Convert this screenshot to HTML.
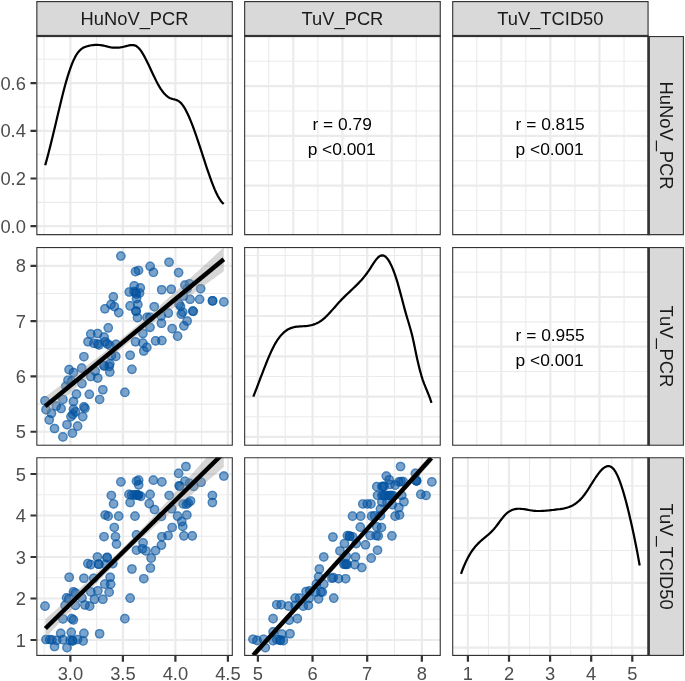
<!DOCTYPE html>
<html lang="en"><head><meta charset="utf-8"><title>Pairs plot</title>
<style>html,body{margin:0;padding:0;background:#fff}svg{display:block}</style></head>
<body>
<svg width="685" height="681" viewBox="0 0 685 681" style="display:block" font-family="'Liberation Sans', sans-serif">
<defs>
<clipPath id="cp00"><rect x="36.3" y="36" width="196.55" height="199.15"/></clipPath>
<clipPath id="cp01"><rect x="244.1" y="36" width="196.7" height="199.15"/></clipPath>
<clipPath id="cp02"><rect x="452.15" y="36" width="196.45" height="199.15"/></clipPath>
<clipPath id="cp10"><rect x="36.3" y="247" width="196.55" height="198.8"/></clipPath>
<clipPath id="cp11"><rect x="244.1" y="247" width="196.7" height="198.8"/></clipPath>
<clipPath id="cp12"><rect x="452.15" y="247" width="196.45" height="198.8"/></clipPath>
<clipPath id="cp20"><rect x="36.3" y="457.15" width="196.55" height="198.8"/></clipPath>
<clipPath id="cp21"><rect x="244.1" y="457.15" width="196.7" height="198.8"/></clipPath>
<clipPath id="cp22"><rect x="452.15" y="457.15" width="196.45" height="198.8"/></clipPath>
<clipPath id="st0"><rect x="36.3" y="1.07" width="196.55" height="34.93"/></clipPath>
<clipPath id="st1"><rect x="244.1" y="1.07" width="196.7" height="34.93"/></clipPath>
<clipPath id="st2"><rect x="452.15" y="1.07" width="196.45" height="34.93"/></clipPath>
<clipPath id="sr0"><rect x="648.6" y="36" width="35.35" height="199.15"/></clipPath>
<clipPath id="sr1"><rect x="648.6" y="247" width="35.35" height="198.8"/></clipPath>
<clipPath id="sr2"><rect x="648.6" y="457.15" width="35.35" height="198.8"/></clipPath>
</defs>
<rect width="685" height="681" fill="#fff"/>
<rect x="36.3" y="1.07" width="196.55" height="34.93" fill="#D9D9D9" stroke="#333333" stroke-width="2.22" clip-path="url(#st0)"/>
<text x="134.57" y="24.8" font-size="18.33" fill="#1A1A1A" text-anchor="middle" letter-spacing="0" dx="0.0">HuNoV_PCR</text>
<rect x="244.1" y="1.07" width="196.7" height="34.93" fill="#D9D9D9" stroke="#333333" stroke-width="2.22" clip-path="url(#st1)"/>
<text x="342.45" y="24.8" font-size="18.33" fill="#1A1A1A" text-anchor="middle" letter-spacing="0" dx="0.0">TuV_PCR</text>
<rect x="452.15" y="1.07" width="196.45" height="34.93" fill="#D9D9D9" stroke="#333333" stroke-width="2.22" clip-path="url(#st2)"/>
<text x="550.38" y="24.8" font-size="18.33" fill="#1A1A1A" text-anchor="middle" letter-spacing="0" dx="0.0">TuV_TCID50</text>
<rect x="648.6" y="36" width="35.35" height="199.15" fill="#D9D9D9" stroke="#333333" stroke-width="2.22" clip-path="url(#sr0)"/>
<text transform="translate(660 135.57) rotate(90)" font-size="18.33" fill="#1A1A1A" text-anchor="middle" letter-spacing="0" dx="0.0">HuNoV_PCR</text>
<rect x="648.6" y="247" width="35.35" height="198.8" fill="#D9D9D9" stroke="#333333" stroke-width="2.22" clip-path="url(#sr1)"/>
<text transform="translate(660 346.4) rotate(90)" font-size="18.33" fill="#1A1A1A" text-anchor="middle" letter-spacing="0" dx="0.0">TuV_PCR</text>
<rect x="648.6" y="457.15" width="35.35" height="198.8" fill="#D9D9D9" stroke="#333333" stroke-width="2.22" clip-path="url(#sr2)"/>
<text transform="translate(660 556.55) rotate(90)" font-size="18.33" fill="#1A1A1A" text-anchor="middle" letter-spacing="0" dx="0.0">TuV_TCID50</text>
<g clip-path="url(#cp00)">
<rect x="36.3" y="36" width="196.55" height="199.15" fill="#fff"/>
<path d="M36.3 202.35H232.85M36.3 154.65H232.85M36.3 106.95H232.85M36.3 59.25H232.85M44.15 36V235.15M96.65 36V235.15M149.15 36V235.15M201.65 36V235.15" stroke="#EBEBEB" stroke-width="1.110" fill="none"/>
<path d="M36.3 226.2H232.85M36.3 178.5H232.85M36.3 130.8H232.85M36.3 83.1H232.85M70.4 36V235.15M122.9 36V235.15M175.4 36V235.15M227.9 36V235.15" stroke="#EBEBEB" stroke-width="2.220" fill="none"/>
<path d="M45.2 165.31L46.7 159.86L48.2 154.2L49.7 148.36L51.2 142.36L52.7 136.24L54.2 130.01L55.7 123.71L57.2 117.36L58.7 111.02L60.2 104.73L61.7 98.56L63.2 92.58L64.7 86.84L66.2 81.41L67.7 76.33L69.2 71.63L70.7 67.31L72.2 63.4L73.7 59.92L75.2 56.88L76.7 54.3L78.2 52.18L79.7 50.48L81.2 49.14L82.7 48.1L84.2 47.3L85.7 46.7L87.2 46.23L88.7 45.84L90.2 45.52L91.7 45.27L93.2 45.08L94.7 44.95L96.2 44.9L97.7 44.92L99.2 45.01L100.7 45.17L102.2 45.41L103.7 45.7L105.2 46.03L106.7 46.38L108.2 46.72L109.7 47.05L111.2 47.33L112.7 47.54L114.2 47.68L115.7 47.72L117.2 47.68L118.7 47.55L120.2 47.36L121.7 47.11L123.2 46.82L124.7 46.49L126.2 46.14L127.7 45.77L129.2 45.42L130.7 45.15L132.2 45.03L133.7 45.14L135.2 45.56L136.7 46.34L138.2 47.56L139.7 49.2L141.2 51.2L142.7 53.53L144.2 56.12L145.7 58.94L147.2 61.93L148.7 65.05L150.2 68.25L151.7 71.48L153.2 74.69L154.7 77.84L156.2 80.87L157.7 83.74L159.2 86.4L160.7 88.82L162.2 90.99L163.7 92.9L165.2 94.56L166.7 95.96L168.2 97.1L169.7 97.97L171.2 98.59L172.7 99.03L174.2 99.39L175.7 99.79L177.2 100.34L178.7 101.13L180.2 102.29L181.7 103.87L183.2 105.85L184.7 108.21L186.2 110.91L187.7 113.93L189.2 117.24L190.7 120.81L192.2 124.61L193.7 128.62L195.2 132.8L196.7 137.12L198.2 141.57L199.7 146.1L201.2 150.7L202.7 155.33L204.2 159.95L205.7 164.54L207.2 169.05L208.7 173.46L210.2 177.73L211.7 181.82L213.2 185.7L214.7 189.33L216.2 192.69L217.7 195.72L219.2 198.41L220.7 200.71L222.2 202.59L223.7 204.01" fill="none" stroke="#000" stroke-width="2.22" stroke-linejoin="round"/>
<rect x="36.3" y="36" width="196.55" height="199.15" fill="none" stroke="#333333" stroke-width="2.22"/>
</g>
<g clip-path="url(#cp01)">
<rect x="244.1" y="36" width="196.7" height="199.15" fill="#fff"/>
<path d="M244.1 61.19H440.8M244.1 110.98H440.8M244.1 160.77H440.8M244.1 210.56H440.8M268.69 36V235.15M317.86 36V235.15M367.04 36V235.15M416.21 36V235.15" stroke="#EBEBEB" stroke-width="1.110" fill="none"/>
<path d="M244.1 86.09H440.8M244.1 135.88H440.8M244.1 185.66H440.8M293.27 36V235.15M342.45 36V235.15M391.62 36V235.15" stroke="#EBEBEB" stroke-width="2.220" fill="none"/>
<text x="342.15" y="130.17" font-size="17.35" fill="#000" text-anchor="middle" letter-spacing="0">r = 0.79</text>
<text x="341.65" y="155.07" font-size="17.35" fill="#000" text-anchor="middle" letter-spacing="0">p &lt;0.001</text>
<rect x="244.1" y="36" width="196.7" height="199.15" fill="none" stroke="#333333" stroke-width="2.22"/>
</g>
<g clip-path="url(#cp02)">
<rect x="452.15" y="36" width="196.45" height="199.15" fill="#fff"/>
<path d="M452.15 61.19H648.6M452.15 110.98H648.6M452.15 160.77H648.6M452.15 210.56H648.6M476.71 36V235.15M525.82 36V235.15M574.93 36V235.15M624.04 36V235.15" stroke="#EBEBEB" stroke-width="1.110" fill="none"/>
<path d="M452.15 86.09H648.6M452.15 135.88H648.6M452.15 185.66H648.6M501.26 36V235.15M550.38 36V235.15M599.49 36V235.15" stroke="#EBEBEB" stroke-width="2.220" fill="none"/>
<text x="550.08" y="130.17" font-size="17.35" fill="#000" text-anchor="middle" letter-spacing="0">r = 0.815</text>
<text x="549.58" y="155.07" font-size="17.35" fill="#000" text-anchor="middle" letter-spacing="0">p &lt;0.001</text>
<rect x="452.15" y="36" width="196.45" height="199.15" fill="none" stroke="#333333" stroke-width="2.22"/>
</g>
<g clip-path="url(#cp10)">
<rect x="36.3" y="247" width="196.55" height="198.8" fill="#fff"/>
<path d="M36.3 404.1H232.85M36.3 348.8H232.85M36.3 293.5H232.85M44.15 247V445.8M96.65 247V445.8M149.15 247V445.8M201.65 247V445.8" stroke="#EBEBEB" stroke-width="1.110" fill="none"/>
<path d="M36.3 431.75H232.85M36.3 376.45H232.85M36.3 321.15H232.85M36.3 265.85H232.85M70.4 247V445.8M122.9 247V445.8M175.4 247V445.8M227.9 247V445.8" stroke="#EBEBEB" stroke-width="2.220" fill="none"/>
<g fill="#0554A0" fill-opacity="0.53">
<circle cx="44.99" cy="400.91" r="4.81"/>
<circle cx="46.01" cy="409.72" r="4.81"/>
<circle cx="51.45" cy="413.24" r="4.81"/>
<circle cx="49.24" cy="419.85" r="4.81"/>
<circle cx="54.53" cy="428.51" r="4.81"/>
<circle cx="62.9" cy="436.88" r="4.81"/>
<circle cx="56.29" cy="406.05" r="4.81"/>
<circle cx="61.14" cy="408.54" r="4.81"/>
<circle cx="62.9" cy="399.44" r="4.81"/>
<circle cx="67.01" cy="424.7" r="4.81"/>
<circle cx="72.44" cy="433.21" r="4.81"/>
<circle cx="77.58" cy="426.16" r="4.81"/>
<circle cx="82.72" cy="416.62" r="4.81"/>
<circle cx="70.98" cy="416.62" r="4.81"/>
<circle cx="72.89" cy="414.42" r="4.81"/>
<circle cx="73.47" cy="409.28" r="4.81"/>
<circle cx="75.38" cy="411.77" r="4.81"/>
<circle cx="73.47" cy="401.49" r="4.81"/>
<circle cx="76.41" cy="394.15" r="4.81"/>
<circle cx="83.9" cy="406.78" r="4.81"/>
<circle cx="84.93" cy="408.25" r="4.81"/>
<circle cx="89.33" cy="394.3" r="4.81"/>
<circle cx="99.61" cy="399.44" r="4.81"/>
<circle cx="102.84" cy="389.75" r="4.81"/>
<circle cx="124.87" cy="392.39" r="4.81"/>
<circle cx="65.84" cy="386.22" r="4.81"/>
<circle cx="68.04" cy="380.2" r="4.81"/>
<circle cx="71.71" cy="381.38" r="4.81"/>
<circle cx="69.07" cy="369.63" r="4.81"/>
<circle cx="73.47" cy="372.57" r="4.81"/>
<circle cx="81.7" cy="368.16" r="4.81"/>
<circle cx="83.9" cy="356.71" r="4.81"/>
<circle cx="81.99" cy="383.58" r="4.81"/>
<circle cx="90.8" cy="376.53" r="4.81"/>
<circle cx="97.7" cy="378" r="4.81"/>
<circle cx="95.21" cy="371.1" r="4.81"/>
<circle cx="104.02" cy="365.66" r="4.81"/>
<circle cx="115.76" cy="356.41" r="4.81"/>
<circle cx="111.36" cy="355.68" r="4.81"/>
<circle cx="130.15" cy="355.24" r="4.81"/>
<circle cx="131.92" cy="369.34" r="4.81"/>
<circle cx="108.26" cy="327.87" r="4.81"/>
<circle cx="90.79" cy="334.04" r="4.81"/>
<circle cx="97.68" cy="333.52" r="4.81"/>
<circle cx="104.15" cy="337.12" r="4.81"/>
<circle cx="88.02" cy="341.75" r="4.81"/>
<circle cx="93.87" cy="343.29" r="4.81"/>
<circle cx="97.47" cy="343.8" r="4.81"/>
<circle cx="99.01" cy="344.83" r="4.81"/>
<circle cx="105.18" cy="341.75" r="4.81"/>
<circle cx="107.24" cy="343.8" r="4.81"/>
<circle cx="109.8" cy="345.34" r="4.81"/>
<circle cx="115.97" cy="344.32" r="4.81"/>
<circle cx="135.5" cy="341.75" r="4.81"/>
<circle cx="142.9" cy="343.08" r="4.81"/>
<circle cx="142.9" cy="333.52" r="4.81"/>
<circle cx="149.99" cy="327.36" r="4.81"/>
<circle cx="143.72" cy="351" r="4.81"/>
<circle cx="146.8" cy="347.4" r="4.81"/>
<circle cx="109.29" cy="366.41" r="4.81"/>
<circle cx="109.8" cy="372.06" r="4.81"/>
<circle cx="104.15" cy="365.9" r="4.81"/>
<circle cx="109.8" cy="363.84" r="4.81"/>
<circle cx="120.86" cy="256.05" r="4.81"/>
<circle cx="135.46" cy="271.67" r="4.81"/>
<circle cx="138.54" cy="270.44" r="4.81"/>
<circle cx="150.15" cy="266.33" r="4.81"/>
<circle cx="153.44" cy="272.29" r="4.81"/>
<circle cx="169.06" cy="262.22" r="4.81"/>
<circle cx="134.22" cy="285.86" r="4.81"/>
<circle cx="140.29" cy="287.91" r="4.81"/>
<circle cx="129.29" cy="292.02" r="4.81"/>
<circle cx="133.92" cy="291.51" r="4.81"/>
<circle cx="135.46" cy="292.54" r="4.81"/>
<circle cx="136.49" cy="294.08" r="4.81"/>
<circle cx="139.57" cy="293.05" r="4.81"/>
<circle cx="136.49" cy="298.7" r="4.81"/>
<circle cx="161.66" cy="289.76" r="4.81"/>
<circle cx="171.22" cy="289.25" r="4.81"/>
<circle cx="113.36" cy="296.85" r="4.81"/>
<circle cx="111" cy="304.56" r="4.81"/>
<circle cx="114.39" cy="306.62" r="4.81"/>
<circle cx="104.93" cy="308.78" r="4.81"/>
<circle cx="118.71" cy="312.58" r="4.81"/>
<circle cx="130.11" cy="305.9" r="4.81"/>
<circle cx="137.82" cy="304.56" r="4.81"/>
<circle cx="135.97" cy="311.04" r="4.81"/>
<circle cx="136.18" cy="311.35" r="4.81"/>
<circle cx="137.51" cy="317.72" r="4.81"/>
<circle cx="154.27" cy="306.72" r="4.81"/>
<circle cx="146.97" cy="317.41" r="4.81"/>
<circle cx="150.05" cy="317.41" r="4.81"/>
<circle cx="161.25" cy="315.97" r="4.81"/>
<circle cx="168.35" cy="313.09" r="4.81"/>
<circle cx="178.61" cy="272.57" r="4.81"/>
<circle cx="184.93" cy="285.05" r="4.81"/>
<circle cx="189.63" cy="283.87" r="4.81"/>
<circle cx="187.13" cy="288.72" r="4.81"/>
<circle cx="200.64" cy="288.72" r="4.81"/>
<circle cx="190.07" cy="299.29" r="4.81"/>
<circle cx="199.61" cy="299.29" r="4.81"/>
<circle cx="212.39" cy="300.76" r="4.81"/>
<circle cx="212.68" cy="300.91" r="4.81"/>
<circle cx="223.84" cy="301.93" r="4.81"/>
<circle cx="183.46" cy="296.06" r="4.81"/>
<circle cx="179.05" cy="304.14" r="4.81"/>
<circle cx="180.52" cy="306.34" r="4.81"/>
<circle cx="182.72" cy="312.21" r="4.81"/>
<circle cx="181.26" cy="314.12" r="4.81"/>
<circle cx="192.71" cy="311.04" r="4.81"/>
<circle cx="193.3" cy="311.33" r="4.81"/>
<circle cx="161.43" cy="323.23" r="4.81"/>
<circle cx="187.13" cy="321.02" r="4.81"/>
<circle cx="183.9" cy="325.87" r="4.81"/>
<circle cx="172.15" cy="328.66" r="4.81"/>
<circle cx="177.58" cy="336.15" r="4.81"/>
<circle cx="155.56" cy="340.85" r="4.81"/>
<circle cx="161.87" cy="340.55" r="4.81"/>
</g>
<g fill="none" stroke="#0554A0" stroke-opacity="0.45" stroke-width="1.47">
<circle cx="44.99" cy="400.91" r="4.07"/>
<circle cx="46.01" cy="409.72" r="4.07"/>
<circle cx="51.45" cy="413.24" r="4.07"/>
<circle cx="49.24" cy="419.85" r="4.07"/>
<circle cx="54.53" cy="428.51" r="4.07"/>
<circle cx="62.9" cy="436.88" r="4.07"/>
<circle cx="56.29" cy="406.05" r="4.07"/>
<circle cx="61.14" cy="408.54" r="4.07"/>
<circle cx="62.9" cy="399.44" r="4.07"/>
<circle cx="67.01" cy="424.7" r="4.07"/>
<circle cx="72.44" cy="433.21" r="4.07"/>
<circle cx="77.58" cy="426.16" r="4.07"/>
<circle cx="82.72" cy="416.62" r="4.07"/>
<circle cx="70.98" cy="416.62" r="4.07"/>
<circle cx="72.89" cy="414.42" r="4.07"/>
<circle cx="73.47" cy="409.28" r="4.07"/>
<circle cx="75.38" cy="411.77" r="4.07"/>
<circle cx="73.47" cy="401.49" r="4.07"/>
<circle cx="76.41" cy="394.15" r="4.07"/>
<circle cx="83.9" cy="406.78" r="4.07"/>
<circle cx="84.93" cy="408.25" r="4.07"/>
<circle cx="89.33" cy="394.3" r="4.07"/>
<circle cx="99.61" cy="399.44" r="4.07"/>
<circle cx="102.84" cy="389.75" r="4.07"/>
<circle cx="124.87" cy="392.39" r="4.07"/>
<circle cx="65.84" cy="386.22" r="4.07"/>
<circle cx="68.04" cy="380.2" r="4.07"/>
<circle cx="71.71" cy="381.38" r="4.07"/>
<circle cx="69.07" cy="369.63" r="4.07"/>
<circle cx="73.47" cy="372.57" r="4.07"/>
<circle cx="81.7" cy="368.16" r="4.07"/>
<circle cx="83.9" cy="356.71" r="4.07"/>
<circle cx="81.99" cy="383.58" r="4.07"/>
<circle cx="90.8" cy="376.53" r="4.07"/>
<circle cx="97.7" cy="378" r="4.07"/>
<circle cx="95.21" cy="371.1" r="4.07"/>
<circle cx="104.02" cy="365.66" r="4.07"/>
<circle cx="115.76" cy="356.41" r="4.07"/>
<circle cx="111.36" cy="355.68" r="4.07"/>
<circle cx="130.15" cy="355.24" r="4.07"/>
<circle cx="131.92" cy="369.34" r="4.07"/>
<circle cx="108.26" cy="327.87" r="4.07"/>
<circle cx="90.79" cy="334.04" r="4.07"/>
<circle cx="97.68" cy="333.52" r="4.07"/>
<circle cx="104.15" cy="337.12" r="4.07"/>
<circle cx="88.02" cy="341.75" r="4.07"/>
<circle cx="93.87" cy="343.29" r="4.07"/>
<circle cx="97.47" cy="343.8" r="4.07"/>
<circle cx="99.01" cy="344.83" r="4.07"/>
<circle cx="105.18" cy="341.75" r="4.07"/>
<circle cx="107.24" cy="343.8" r="4.07"/>
<circle cx="109.8" cy="345.34" r="4.07"/>
<circle cx="115.97" cy="344.32" r="4.07"/>
<circle cx="135.5" cy="341.75" r="4.07"/>
<circle cx="142.9" cy="343.08" r="4.07"/>
<circle cx="142.9" cy="333.52" r="4.07"/>
<circle cx="149.99" cy="327.36" r="4.07"/>
<circle cx="143.72" cy="351" r="4.07"/>
<circle cx="146.8" cy="347.4" r="4.07"/>
<circle cx="109.29" cy="366.41" r="4.07"/>
<circle cx="109.8" cy="372.06" r="4.07"/>
<circle cx="104.15" cy="365.9" r="4.07"/>
<circle cx="109.8" cy="363.84" r="4.07"/>
<circle cx="120.86" cy="256.05" r="4.07"/>
<circle cx="135.46" cy="271.67" r="4.07"/>
<circle cx="138.54" cy="270.44" r="4.07"/>
<circle cx="150.15" cy="266.33" r="4.07"/>
<circle cx="153.44" cy="272.29" r="4.07"/>
<circle cx="169.06" cy="262.22" r="4.07"/>
<circle cx="134.22" cy="285.86" r="4.07"/>
<circle cx="140.29" cy="287.91" r="4.07"/>
<circle cx="129.29" cy="292.02" r="4.07"/>
<circle cx="133.92" cy="291.51" r="4.07"/>
<circle cx="135.46" cy="292.54" r="4.07"/>
<circle cx="136.49" cy="294.08" r="4.07"/>
<circle cx="139.57" cy="293.05" r="4.07"/>
<circle cx="136.49" cy="298.7" r="4.07"/>
<circle cx="161.66" cy="289.76" r="4.07"/>
<circle cx="171.22" cy="289.25" r="4.07"/>
<circle cx="113.36" cy="296.85" r="4.07"/>
<circle cx="111" cy="304.56" r="4.07"/>
<circle cx="114.39" cy="306.62" r="4.07"/>
<circle cx="104.93" cy="308.78" r="4.07"/>
<circle cx="118.71" cy="312.58" r="4.07"/>
<circle cx="130.11" cy="305.9" r="4.07"/>
<circle cx="137.82" cy="304.56" r="4.07"/>
<circle cx="135.97" cy="311.04" r="4.07"/>
<circle cx="136.18" cy="311.35" r="4.07"/>
<circle cx="137.51" cy="317.72" r="4.07"/>
<circle cx="154.27" cy="306.72" r="4.07"/>
<circle cx="146.97" cy="317.41" r="4.07"/>
<circle cx="150.05" cy="317.41" r="4.07"/>
<circle cx="161.25" cy="315.97" r="4.07"/>
<circle cx="168.35" cy="313.09" r="4.07"/>
<circle cx="178.61" cy="272.57" r="4.07"/>
<circle cx="184.93" cy="285.05" r="4.07"/>
<circle cx="189.63" cy="283.87" r="4.07"/>
<circle cx="187.13" cy="288.72" r="4.07"/>
<circle cx="200.64" cy="288.72" r="4.07"/>
<circle cx="190.07" cy="299.29" r="4.07"/>
<circle cx="199.61" cy="299.29" r="4.07"/>
<circle cx="212.39" cy="300.76" r="4.07"/>
<circle cx="212.68" cy="300.91" r="4.07"/>
<circle cx="223.84" cy="301.93" r="4.07"/>
<circle cx="183.46" cy="296.06" r="4.07"/>
<circle cx="179.05" cy="304.14" r="4.07"/>
<circle cx="180.52" cy="306.34" r="4.07"/>
<circle cx="182.72" cy="312.21" r="4.07"/>
<circle cx="181.26" cy="314.12" r="4.07"/>
<circle cx="192.71" cy="311.04" r="4.07"/>
<circle cx="193.3" cy="311.33" r="4.07"/>
<circle cx="161.43" cy="323.23" r="4.07"/>
<circle cx="187.13" cy="321.02" r="4.07"/>
<circle cx="183.9" cy="325.87" r="4.07"/>
<circle cx="172.15" cy="328.66" r="4.07"/>
<circle cx="177.58" cy="336.15" r="4.07"/>
<circle cx="155.56" cy="340.85" r="4.07"/>
<circle cx="161.87" cy="340.55" r="4.07"/>
</g>
<path d="M45.2 396.8L54.13 390.2L63.06 383.56L71.99 376.89L80.92 370.16L89.85 363.37L98.78 356.49L107.71 349.5L116.64 342.38L125.57 335.11L134.5 327.65L143.43 320.02L152.36 312.22L161.29 304.3L170.22 296.29L179.15 288.2L188.08 280.06L197.01 271.89L205.94 263.68L214.87 255.45L223.8 247.2L223.8 271.2L214.87 277.66L205.94 284.14L197.01 290.64L188.08 297.18L179.15 303.75L170.22 310.37L161.29 317.07L152.36 323.86L143.43 330.77L134.5 337.85L125.57 345.11L116.64 352.54L107.71 360.13L98.78 367.85L89.85 375.68L80.92 383.6L71.99 391.58L63.06 399.62L54.13 407.69L45.2 415.8Z" fill="#999999" fill-opacity="0.4"/>
<path d="M45.2 406.3L223.8 259.2" stroke="#000" stroke-width="4.45" fill="none"/>
<rect x="36.3" y="247" width="196.55" height="198.8" fill="none" stroke="#333333" stroke-width="2.22"/>
</g>
<g clip-path="url(#cp11)">
<rect x="244.1" y="247" width="196.7" height="198.8" fill="#fff"/>
<path d="M244.1 416.8H440.8M244.1 376.5H440.8M244.1 336.2H440.8M244.1 295.9H440.8M244.1 255.5H440.8M285.22 247V445.8M339.88 247V445.8M394.52 247V445.8" stroke="#EBEBEB" stroke-width="1.110" fill="none"/>
<path d="M244.1 436.9H440.8M244.1 396.6H440.8M244.1 356.3H440.8M244.1 316H440.8M244.1 275.7H440.8M257.9 247V445.8M312.55 247V445.8M367.2 247V445.8M421.85 247V445.8" stroke="#EBEBEB" stroke-width="2.220" fill="none"/>
<path d="M253.3 396.71L254.8 392.93L256.3 389.06L257.8 385.14L259.3 381.19L260.8 377.22L262.3 373.27L263.8 369.37L265.3 365.53L266.8 361.78L268.3 358.15L269.8 354.66L271.3 351.34L272.8 348.21L274.3 345.3L275.8 342.64L277.3 340.22L278.8 338.06L280.3 336.13L281.8 334.42L283.3 332.93L284.8 331.62L286.3 330.5L287.8 329.55L289.3 328.76L290.8 328.12L292.3 327.6L293.8 327.2L295.3 326.9L296.8 326.68L298.3 326.53L299.8 326.42L301.3 326.33L302.8 326.25L304.3 326.15L305.8 326.03L307.3 325.86L308.8 325.64L310.3 325.37L311.8 325.02L313.3 324.6L314.8 324.08L316.3 323.48L317.8 322.76L319.3 321.93L320.8 320.98L322.3 319.89L323.8 318.66L325.3 317.32L326.8 315.87L328.3 314.33L329.8 312.72L331.3 311.06L332.8 309.37L334.3 307.65L335.8 305.94L337.3 304.24L338.8 302.57L340.3 300.95L341.8 299.38L343.3 297.86L344.8 296.38L346.3 294.92L347.8 293.49L349.3 292.07L350.8 290.65L352.3 289.24L353.8 287.8L355.3 286.35L356.8 284.88L358.3 283.36L359.8 281.79L361.3 280.16L362.8 278.45L364.3 276.65L365.8 274.75L367.3 272.73L368.8 270.58L370.3 268.29L371.8 265.94L373.3 263.61L374.8 261.39L376.3 259.38L377.8 257.68L379.3 256.37L380.8 255.55L382.3 255.3L383.8 255.63L385.3 256.52L386.8 257.96L388.3 259.93L389.8 262.41L391.3 265.39L392.8 268.85L394.3 272.76L395.8 277.12L397.3 281.91L398.8 287.1L400.3 292.59L401.8 298.27L403.3 303.98L404.8 309.6L406.3 314.99L407.8 320.05L409.3 325.01L410.8 330.22L412.3 336.09L413.8 342.84L415.3 350.07L416.8 357.16L418.3 363.79L419.8 369.88L421.3 375.32L422.8 380.04L424.3 384.14L425.8 387.87L427.3 391.46L428.8 395.17L430.3 399.24L431.5 402.92" fill="none" stroke="#000" stroke-width="2.22" stroke-linejoin="round"/>
<rect x="244.1" y="247" width="196.7" height="198.8" fill="none" stroke="#333333" stroke-width="2.22"/>
</g>
<g clip-path="url(#cp12)">
<rect x="452.15" y="247" width="196.45" height="198.8" fill="#fff"/>
<path d="M452.15 272.15H648.6M452.15 321.85H648.6M452.15 371.55H648.6M452.15 421.25H648.6M476.71 247V445.8M525.82 247V445.8M574.93 247V445.8M624.04 247V445.8" stroke="#EBEBEB" stroke-width="1.110" fill="none"/>
<path d="M452.15 297H648.6M452.15 346.7H648.6M452.15 396.4H648.6M501.26 247V445.8M550.38 247V445.8M599.49 247V445.8" stroke="#EBEBEB" stroke-width="2.220" fill="none"/>
<text x="550.08" y="341" font-size="17.35" fill="#000" text-anchor="middle" letter-spacing="0">r = 0.955</text>
<text x="549.58" y="365.9" font-size="17.35" fill="#000" text-anchor="middle" letter-spacing="0">p &lt;0.001</text>
<rect x="452.15" y="247" width="196.45" height="198.8" fill="none" stroke="#333333" stroke-width="2.22"/>
</g>
<g clip-path="url(#cp20)">
<rect x="36.3" y="457.15" width="196.55" height="198.8" fill="#fff"/>
<path d="M36.3 619.25H232.85M36.3 577.75H232.85M36.3 536.25H232.85M36.3 494.75H232.85M44.15 457.15V655.95M96.65 457.15V655.95M149.15 457.15V655.95M201.65 457.15V655.95" stroke="#EBEBEB" stroke-width="1.110" fill="none"/>
<path d="M36.3 640H232.85M36.3 598.5H232.85M36.3 557H232.85M36.3 515.5H232.85M36.3 474H232.85M70.4 457.15V655.95M122.9 457.15V655.95M175.4 457.15V655.95M227.9 457.15V655.95" stroke="#EBEBEB" stroke-width="2.220" fill="none"/>
<g fill="#0554A0" fill-opacity="0.53">
<circle cx="44.99" cy="606.16" r="4.81"/>
<circle cx="46.01" cy="639.49" r="4.81"/>
<circle cx="49.68" cy="639.49" r="4.81"/>
<circle cx="51.89" cy="639.93" r="4.81"/>
<circle cx="56.73" cy="640.38" r="4.81"/>
<circle cx="54.53" cy="646.54" r="4.81"/>
<circle cx="60.7" cy="633.33" r="4.81"/>
<circle cx="62.9" cy="639.64" r="4.81"/>
<circle cx="67.01" cy="647.72" r="4.81"/>
<circle cx="71.27" cy="632.3" r="4.81"/>
<circle cx="72.44" cy="640.67" r="4.81"/>
<circle cx="72.74" cy="640.96" r="4.81"/>
<circle cx="70.24" cy="640.38" r="4.81"/>
<circle cx="77.58" cy="639.49" r="4.81"/>
<circle cx="83.16" cy="640.96" r="4.81"/>
<circle cx="83.9" cy="633.33" r="4.81"/>
<circle cx="99.61" cy="633.77" r="4.81"/>
<circle cx="62.9" cy="618.94" r="4.81"/>
<circle cx="71.71" cy="618.64" r="4.81"/>
<circle cx="73.47" cy="619.82" r="4.81"/>
<circle cx="124.87" cy="618.64" r="4.81"/>
<circle cx="130.15" cy="598.08" r="4.81"/>
<circle cx="131.92" cy="569.01" r="4.81"/>
<circle cx="69.21" cy="577.23" r="4.81"/>
<circle cx="83.9" cy="578.26" r="4.81"/>
<circle cx="93.74" cy="578.26" r="4.81"/>
<circle cx="73.47" cy="591.92" r="4.81"/>
<circle cx="75.38" cy="592.94" r="4.81"/>
<circle cx="66.57" cy="597.79" r="4.81"/>
<circle cx="68.77" cy="598.82" r="4.81"/>
<circle cx="65.1" cy="605.43" r="4.81"/>
<circle cx="75.38" cy="605.43" r="4.81"/>
<circle cx="81.99" cy="598.08" r="4.81"/>
<circle cx="84.93" cy="604.99" r="4.81"/>
<circle cx="89.63" cy="606.16" r="4.81"/>
<circle cx="94.47" cy="599.26" r="4.81"/>
<circle cx="102.84" cy="599.26" r="4.81"/>
<circle cx="90.8" cy="591.92" r="4.81"/>
<circle cx="97.85" cy="590.74" r="4.81"/>
<circle cx="109.16" cy="592.21" r="4.81"/>
<circle cx="104.75" cy="584.13" r="4.81"/>
<circle cx="110.62" cy="584.13" r="4.81"/>
<circle cx="110.18" cy="577.23" r="4.81"/>
<circle cx="87.86" cy="563.58" r="4.81"/>
<circle cx="90.8" cy="564.6" r="4.81"/>
<circle cx="98.58" cy="564.02" r="4.81"/>
<circle cx="98.88" cy="564.31" r="4.81"/>
<circle cx="97.41" cy="556.97" r="4.81"/>
<circle cx="106.95" cy="557.7" r="4.81"/>
<circle cx="107.25" cy="557.41" r="4.81"/>
<circle cx="112.83" cy="563.58" r="4.81"/>
<circle cx="105.48" cy="564.31" r="4.81"/>
<circle cx="120.9" cy="481.93" r="4.81"/>
<circle cx="111.36" cy="495.44" r="4.81"/>
<circle cx="113.56" cy="503.96" r="4.81"/>
<circle cx="128.98" cy="494.41" r="4.81"/>
<circle cx="130.15" cy="502.49" r="4.81"/>
<circle cx="105.19" cy="514.97" r="4.81"/>
<circle cx="108.13" cy="516.15" r="4.81"/>
<circle cx="118.7" cy="516.15" r="4.81"/>
<circle cx="114.3" cy="527.45" r="4.81"/>
<circle cx="104.02" cy="536.7" r="4.81"/>
<circle cx="115.47" cy="536.7" r="4.81"/>
<circle cx="116.5" cy="544.05" r="4.81"/>
<circle cx="185.95" cy="466.51" r="4.81"/>
<circle cx="178.61" cy="473.41" r="4.81"/>
<circle cx="223.84" cy="476.06" r="4.81"/>
<circle cx="153.36" cy="480.17" r="4.81"/>
<circle cx="161.87" cy="481.93" r="4.81"/>
<circle cx="138.67" cy="480.17" r="4.81"/>
<circle cx="136.47" cy="481.2" r="4.81"/>
<circle cx="138.67" cy="484.87" r="4.81"/>
<circle cx="184.93" cy="481.2" r="4.81"/>
<circle cx="179.2" cy="485.75" r="4.81"/>
<circle cx="179.79" cy="486.34" r="4.81"/>
<circle cx="189.63" cy="483.4" r="4.81"/>
<circle cx="193.74" cy="486.34" r="4.81"/>
<circle cx="201.08" cy="482.23" r="4.81"/>
<circle cx="137.2" cy="494.85" r="4.81"/>
<circle cx="137.94" cy="495.15" r="4.81"/>
<circle cx="138.67" cy="495.44" r="4.81"/>
<circle cx="136.17" cy="495.15" r="4.81"/>
<circle cx="140.87" cy="496.32" r="4.81"/>
<circle cx="150.12" cy="494.41" r="4.81"/>
<circle cx="169.21" cy="495.44" r="4.81"/>
<circle cx="212.39" cy="495.44" r="4.81"/>
<circle cx="212.39" cy="502.49" r="4.81"/>
<circle cx="149.24" cy="503.66" r="4.81"/>
<circle cx="154.53" cy="509.54" r="4.81"/>
<circle cx="190.51" cy="501.02" r="4.81"/>
<circle cx="183.16" cy="503.96" r="4.81"/>
<circle cx="186.4" cy="504.25" r="4.81"/>
<circle cx="188.16" cy="502.78" r="4.81"/>
<circle cx="171.71" cy="508.8" r="4.81"/>
<circle cx="135" cy="516.15" r="4.81"/>
<circle cx="161.43" cy="516.44" r="4.81"/>
<circle cx="177.58" cy="516.15" r="4.81"/>
<circle cx="186.84" cy="514.97" r="4.81"/>
<circle cx="181.7" cy="521.58" r="4.81"/>
<circle cx="182.72" cy="526.43" r="4.81"/>
<circle cx="172.15" cy="527.45" r="4.81"/>
<circle cx="168.04" cy="535.53" r="4.81"/>
<circle cx="161.87" cy="536.7" r="4.81"/>
<circle cx="183.9" cy="535.82" r="4.81"/>
<circle cx="192.27" cy="535.82" r="4.81"/>
<circle cx="136.47" cy="534.8" r="4.81"/>
<circle cx="161.43" cy="545.07" r="4.81"/>
<circle cx="143.08" cy="542.87" r="4.81"/>
<circle cx="155.56" cy="550.65" r="4.81"/>
<circle cx="142.34" cy="548.75" r="4.81"/>
<circle cx="146.01" cy="550.95" r="4.81"/>
<circle cx="136.47" cy="550.21" r="4.81"/>
<circle cx="151.15" cy="558.14" r="4.81"/>
<circle cx="150.42" cy="567.98" r="4.81"/>
<circle cx="143.81" cy="578.7" r="4.81"/>
<circle cx="131.6" cy="494.9" r="4.81"/>
<circle cx="134" cy="494.8" r="4.81"/>
</g>
<g fill="none" stroke="#0554A0" stroke-opacity="0.45" stroke-width="1.47">
<circle cx="44.99" cy="606.16" r="4.07"/>
<circle cx="46.01" cy="639.49" r="4.07"/>
<circle cx="49.68" cy="639.49" r="4.07"/>
<circle cx="51.89" cy="639.93" r="4.07"/>
<circle cx="56.73" cy="640.38" r="4.07"/>
<circle cx="54.53" cy="646.54" r="4.07"/>
<circle cx="60.7" cy="633.33" r="4.07"/>
<circle cx="62.9" cy="639.64" r="4.07"/>
<circle cx="67.01" cy="647.72" r="4.07"/>
<circle cx="71.27" cy="632.3" r="4.07"/>
<circle cx="72.44" cy="640.67" r="4.07"/>
<circle cx="72.74" cy="640.96" r="4.07"/>
<circle cx="70.24" cy="640.38" r="4.07"/>
<circle cx="77.58" cy="639.49" r="4.07"/>
<circle cx="83.16" cy="640.96" r="4.07"/>
<circle cx="83.9" cy="633.33" r="4.07"/>
<circle cx="99.61" cy="633.77" r="4.07"/>
<circle cx="62.9" cy="618.94" r="4.07"/>
<circle cx="71.71" cy="618.64" r="4.07"/>
<circle cx="73.47" cy="619.82" r="4.07"/>
<circle cx="124.87" cy="618.64" r="4.07"/>
<circle cx="130.15" cy="598.08" r="4.07"/>
<circle cx="131.92" cy="569.01" r="4.07"/>
<circle cx="69.21" cy="577.23" r="4.07"/>
<circle cx="83.9" cy="578.26" r="4.07"/>
<circle cx="93.74" cy="578.26" r="4.07"/>
<circle cx="73.47" cy="591.92" r="4.07"/>
<circle cx="75.38" cy="592.94" r="4.07"/>
<circle cx="66.57" cy="597.79" r="4.07"/>
<circle cx="68.77" cy="598.82" r="4.07"/>
<circle cx="65.1" cy="605.43" r="4.07"/>
<circle cx="75.38" cy="605.43" r="4.07"/>
<circle cx="81.99" cy="598.08" r="4.07"/>
<circle cx="84.93" cy="604.99" r="4.07"/>
<circle cx="89.63" cy="606.16" r="4.07"/>
<circle cx="94.47" cy="599.26" r="4.07"/>
<circle cx="102.84" cy="599.26" r="4.07"/>
<circle cx="90.8" cy="591.92" r="4.07"/>
<circle cx="97.85" cy="590.74" r="4.07"/>
<circle cx="109.16" cy="592.21" r="4.07"/>
<circle cx="104.75" cy="584.13" r="4.07"/>
<circle cx="110.62" cy="584.13" r="4.07"/>
<circle cx="110.18" cy="577.23" r="4.07"/>
<circle cx="87.86" cy="563.58" r="4.07"/>
<circle cx="90.8" cy="564.6" r="4.07"/>
<circle cx="98.58" cy="564.02" r="4.07"/>
<circle cx="98.88" cy="564.31" r="4.07"/>
<circle cx="97.41" cy="556.97" r="4.07"/>
<circle cx="106.95" cy="557.7" r="4.07"/>
<circle cx="107.25" cy="557.41" r="4.07"/>
<circle cx="112.83" cy="563.58" r="4.07"/>
<circle cx="105.48" cy="564.31" r="4.07"/>
<circle cx="120.9" cy="481.93" r="4.07"/>
<circle cx="111.36" cy="495.44" r="4.07"/>
<circle cx="113.56" cy="503.96" r="4.07"/>
<circle cx="128.98" cy="494.41" r="4.07"/>
<circle cx="130.15" cy="502.49" r="4.07"/>
<circle cx="105.19" cy="514.97" r="4.07"/>
<circle cx="108.13" cy="516.15" r="4.07"/>
<circle cx="118.7" cy="516.15" r="4.07"/>
<circle cx="114.3" cy="527.45" r="4.07"/>
<circle cx="104.02" cy="536.7" r="4.07"/>
<circle cx="115.47" cy="536.7" r="4.07"/>
<circle cx="116.5" cy="544.05" r="4.07"/>
<circle cx="185.95" cy="466.51" r="4.07"/>
<circle cx="178.61" cy="473.41" r="4.07"/>
<circle cx="223.84" cy="476.06" r="4.07"/>
<circle cx="153.36" cy="480.17" r="4.07"/>
<circle cx="161.87" cy="481.93" r="4.07"/>
<circle cx="138.67" cy="480.17" r="4.07"/>
<circle cx="136.47" cy="481.2" r="4.07"/>
<circle cx="138.67" cy="484.87" r="4.07"/>
<circle cx="184.93" cy="481.2" r="4.07"/>
<circle cx="179.2" cy="485.75" r="4.07"/>
<circle cx="179.79" cy="486.34" r="4.07"/>
<circle cx="189.63" cy="483.4" r="4.07"/>
<circle cx="193.74" cy="486.34" r="4.07"/>
<circle cx="201.08" cy="482.23" r="4.07"/>
<circle cx="137.2" cy="494.85" r="4.07"/>
<circle cx="137.94" cy="495.15" r="4.07"/>
<circle cx="138.67" cy="495.44" r="4.07"/>
<circle cx="136.17" cy="495.15" r="4.07"/>
<circle cx="140.87" cy="496.32" r="4.07"/>
<circle cx="150.12" cy="494.41" r="4.07"/>
<circle cx="169.21" cy="495.44" r="4.07"/>
<circle cx="212.39" cy="495.44" r="4.07"/>
<circle cx="212.39" cy="502.49" r="4.07"/>
<circle cx="149.24" cy="503.66" r="4.07"/>
<circle cx="154.53" cy="509.54" r="4.07"/>
<circle cx="190.51" cy="501.02" r="4.07"/>
<circle cx="183.16" cy="503.96" r="4.07"/>
<circle cx="186.4" cy="504.25" r="4.07"/>
<circle cx="188.16" cy="502.78" r="4.07"/>
<circle cx="171.71" cy="508.8" r="4.07"/>
<circle cx="135" cy="516.15" r="4.07"/>
<circle cx="161.43" cy="516.44" r="4.07"/>
<circle cx="177.58" cy="516.15" r="4.07"/>
<circle cx="186.84" cy="514.97" r="4.07"/>
<circle cx="181.7" cy="521.58" r="4.07"/>
<circle cx="182.72" cy="526.43" r="4.07"/>
<circle cx="172.15" cy="527.45" r="4.07"/>
<circle cx="168.04" cy="535.53" r="4.07"/>
<circle cx="161.87" cy="536.7" r="4.07"/>
<circle cx="183.9" cy="535.82" r="4.07"/>
<circle cx="192.27" cy="535.82" r="4.07"/>
<circle cx="136.47" cy="534.8" r="4.07"/>
<circle cx="161.43" cy="545.07" r="4.07"/>
<circle cx="143.08" cy="542.87" r="4.07"/>
<circle cx="155.56" cy="550.65" r="4.07"/>
<circle cx="142.34" cy="548.75" r="4.07"/>
<circle cx="146.01" cy="550.95" r="4.07"/>
<circle cx="136.47" cy="550.21" r="4.07"/>
<circle cx="151.15" cy="558.14" r="4.07"/>
<circle cx="150.42" cy="567.98" r="4.07"/>
<circle cx="143.81" cy="578.7" r="4.07"/>
<circle cx="131.6" cy="494.9" r="4.07"/>
<circle cx="134" cy="494.8" r="4.07"/>
</g>
<path d="M45.4 619.1L54.32 611.14L63.24 603.15L72.16 595.12L81.08 587.06L90 578.93L98.92 570.71L107.84 562.37L116.76 553.88L125.68 545.19L134.6 536.22L143.52 526.92L152.44 517.39L161.36 507.69L170.28 497.9L179.2 488.04L188.12 478.14L197.04 468.21L205.96 458.25L214.88 448.28L223.8 438.3L223.8 467.1L214.88 474.7L205.96 482.31L197.04 489.93L188.12 497.58L179.2 505.26L170.28 512.98L161.36 520.77L152.44 528.65L143.52 536.7L134.6 544.98L125.68 553.59L116.76 562.48L107.84 571.57L98.92 580.81L90 590.17L81.08 599.62L72.16 609.14L63.24 618.69L54.32 628.28L45.4 637.9Z" fill="#999999" fill-opacity="0.4"/>
<path d="M45.4 628.5L223.8 452.7" stroke="#000" stroke-width="4.45" fill="none"/>
<rect x="36.3" y="457.15" width="196.55" height="198.8" fill="none" stroke="#333333" stroke-width="2.22"/>
</g>
<g clip-path="url(#cp21)">
<rect x="244.1" y="457.15" width="196.7" height="198.8" fill="#fff"/>
<path d="M244.1 619.25H440.8M244.1 577.75H440.8M244.1 536.25H440.8M244.1 494.75H440.8M285.22 457.15V655.95M339.88 457.15V655.95M394.52 457.15V655.95" stroke="#EBEBEB" stroke-width="1.110" fill="none"/>
<path d="M244.1 640H440.8M244.1 598.5H440.8M244.1 557H440.8M244.1 515.5H440.8M244.1 474H440.8M257.9 457.15V655.95M312.55 457.15V655.95M367.2 457.15V655.95M421.85 457.15V655.95" stroke="#EBEBEB" stroke-width="2.220" fill="none"/>
<g fill="#0554A0" fill-opacity="0.53">
<circle cx="252.99" cy="639.2" r="4.81"/>
<circle cx="256.95" cy="640.38" r="4.81"/>
<circle cx="263.56" cy="639.2" r="4.81"/>
<circle cx="265.32" cy="647.72" r="4.81"/>
<circle cx="273.1" cy="631.86" r="4.81"/>
<circle cx="273.1" cy="640.67" r="4.81"/>
<circle cx="276.77" cy="639.49" r="4.81"/>
<circle cx="280.44" cy="640.38" r="4.81"/>
<circle cx="283.38" cy="640.67" r="4.81"/>
<circle cx="281.91" cy="634.06" r="4.81"/>
<circle cx="289.99" cy="633.77" r="4.81"/>
<circle cx="273.1" cy="618.64" r="4.81"/>
<circle cx="289.26" cy="620.11" r="4.81"/>
<circle cx="297.33" cy="618.64" r="4.81"/>
<circle cx="276.77" cy="604.69" r="4.81"/>
<circle cx="281.18" cy="604.69" r="4.81"/>
<circle cx="288.52" cy="606.16" r="4.81"/>
<circle cx="295.13" cy="605.43" r="4.81"/>
<circle cx="303.21" cy="606.16" r="4.81"/>
<circle cx="308.35" cy="605.43" r="4.81"/>
<circle cx="295.13" cy="598.08" r="4.81"/>
<circle cx="299.53" cy="598.08" r="4.81"/>
<circle cx="309.08" cy="598.38" r="4.81"/>
<circle cx="318.62" cy="598.82" r="4.81"/>
<circle cx="333.75" cy="598.08" r="4.81"/>
<circle cx="306.14" cy="591.48" r="4.81"/>
<circle cx="309.81" cy="590.74" r="4.81"/>
<circle cx="315.69" cy="592.21" r="4.81"/>
<circle cx="320.83" cy="591.92" r="4.81"/>
<circle cx="322.3" cy="592.21" r="4.81"/>
<circle cx="316.42" cy="584.13" r="4.81"/>
<circle cx="323.76" cy="584.13" r="4.81"/>
<circle cx="318.62" cy="576.79" r="4.81"/>
<circle cx="331.84" cy="578.26" r="4.81"/>
<circle cx="333.31" cy="577.53" r="4.81"/>
<circle cx="338.45" cy="578.7" r="4.81"/>
<circle cx="319.36" cy="569.01" r="4.81"/>
<circle cx="323.76" cy="556.97" r="4.81"/>
<circle cx="400.56" cy="466.51" r="4.81"/>
<circle cx="415.39" cy="473.41" r="4.81"/>
<circle cx="431.84" cy="481.93" r="4.81"/>
<circle cx="386.32" cy="476.06" r="4.81"/>
<circle cx="389.26" cy="479.73" r="4.81"/>
<circle cx="376.77" cy="486.63" r="4.81"/>
<circle cx="381.91" cy="486.63" r="4.81"/>
<circle cx="384.12" cy="486.34" r="4.81"/>
<circle cx="389.99" cy="484.43" r="4.81"/>
<circle cx="395.13" cy="485.16" r="4.81"/>
<circle cx="398.8" cy="481.93" r="4.81"/>
<circle cx="401" cy="481.64" r="4.81"/>
<circle cx="403.21" cy="481.64" r="4.81"/>
<circle cx="416.13" cy="480.61" r="4.81"/>
<circle cx="416.72" cy="480.9" r="4.81"/>
<circle cx="420.83" cy="494.41" r="4.81"/>
<circle cx="425.97" cy="495.44" r="4.81"/>
<circle cx="377.51" cy="495.44" r="4.81"/>
<circle cx="381.91" cy="495.44" r="4.81"/>
<circle cx="384.85" cy="495.44" r="4.81"/>
<circle cx="388.52" cy="495.44" r="4.81"/>
<circle cx="392.93" cy="495.44" r="4.81"/>
<circle cx="401.74" cy="495.44" r="4.81"/>
<circle cx="381.91" cy="502.2" r="4.81"/>
<circle cx="387.05" cy="502.49" r="4.81"/>
<circle cx="392.19" cy="504.69" r="4.81"/>
<circle cx="403.94" cy="501.76" r="4.81"/>
<circle cx="362.82" cy="503.96" r="4.81"/>
<circle cx="367.23" cy="503.96" r="4.81"/>
<circle cx="370.9" cy="503.96" r="4.81"/>
<circle cx="398.8" cy="507.63" r="4.81"/>
<circle cx="380.44" cy="509.1" r="4.81"/>
<circle cx="352.54" cy="516.15" r="4.81"/>
<circle cx="360.62" cy="516.15" r="4.81"/>
<circle cx="371.63" cy="516.15" r="4.81"/>
<circle cx="374.57" cy="515.71" r="4.81"/>
<circle cx="380.44" cy="515.71" r="4.81"/>
<circle cx="395.13" cy="516.15" r="4.81"/>
<circle cx="399.53" cy="514.97" r="4.81"/>
<circle cx="360.33" cy="527.16" r="4.81"/>
<circle cx="376.77" cy="526.72" r="4.81"/>
<circle cx="381.47" cy="527.45" r="4.81"/>
<circle cx="347.41" cy="535.53" r="4.81"/>
<circle cx="349.61" cy="536.26" r="4.81"/>
<circle cx="352.54" cy="536.7" r="4.81"/>
<circle cx="370.17" cy="535.53" r="4.81"/>
<circle cx="376.04" cy="535.53" r="4.81"/>
<circle cx="378.24" cy="535.97" r="4.81"/>
<circle cx="391.9" cy="535.82" r="4.81"/>
<circle cx="344.47" cy="543.61" r="4.81"/>
<circle cx="356.22" cy="543.61" r="4.81"/>
<circle cx="365.47" cy="544.78" r="4.81"/>
<circle cx="377.51" cy="550.21" r="4.81"/>
<circle cx="343.9" cy="564.3" r="4.81"/>
<circle cx="345.2" cy="564.4" r="4.81"/>
<circle cx="346.3" cy="564.1" r="4.81"/>
<circle cx="347.2" cy="564.5" r="4.81"/>
<circle cx="354.75" cy="564.6" r="4.81"/>
<circle cx="361.8" cy="567.54" r="4.81"/>
<circle cx="355.48" cy="556.97" r="4.81"/>
<circle cx="371.19" cy="558.14" r="4.81"/>
<circle cx="345.64" cy="578.7" r="4.81"/>
<circle cx="332.87" cy="537" r="4.81"/>
<circle cx="339.92" cy="550.95" r="4.81"/>
<circle cx="383.38" cy="495.44" r="4.81"/>
<circle cx="386.61" cy="495.44" r="4.81"/>
<circle cx="390.28" cy="495.44" r="4.81"/>
<circle cx="391.46" cy="495.59" r="4.81"/>
<circle cx="382.94" cy="486.48" r="4.81"/>
<circle cx="416.42" cy="480.76" r="4.81"/>
<circle cx="349.61" cy="535.97" r="4.81"/>
<circle cx="279.71" cy="640.08" r="4.81"/>
<circle cx="346.3" cy="556.3" r="4.81"/>
</g>
<g fill="none" stroke="#0554A0" stroke-opacity="0.45" stroke-width="1.47">
<circle cx="252.99" cy="639.2" r="4.07"/>
<circle cx="256.95" cy="640.38" r="4.07"/>
<circle cx="263.56" cy="639.2" r="4.07"/>
<circle cx="265.32" cy="647.72" r="4.07"/>
<circle cx="273.1" cy="631.86" r="4.07"/>
<circle cx="273.1" cy="640.67" r="4.07"/>
<circle cx="276.77" cy="639.49" r="4.07"/>
<circle cx="280.44" cy="640.38" r="4.07"/>
<circle cx="283.38" cy="640.67" r="4.07"/>
<circle cx="281.91" cy="634.06" r="4.07"/>
<circle cx="289.99" cy="633.77" r="4.07"/>
<circle cx="273.1" cy="618.64" r="4.07"/>
<circle cx="289.26" cy="620.11" r="4.07"/>
<circle cx="297.33" cy="618.64" r="4.07"/>
<circle cx="276.77" cy="604.69" r="4.07"/>
<circle cx="281.18" cy="604.69" r="4.07"/>
<circle cx="288.52" cy="606.16" r="4.07"/>
<circle cx="295.13" cy="605.43" r="4.07"/>
<circle cx="303.21" cy="606.16" r="4.07"/>
<circle cx="308.35" cy="605.43" r="4.07"/>
<circle cx="295.13" cy="598.08" r="4.07"/>
<circle cx="299.53" cy="598.08" r="4.07"/>
<circle cx="309.08" cy="598.38" r="4.07"/>
<circle cx="318.62" cy="598.82" r="4.07"/>
<circle cx="333.75" cy="598.08" r="4.07"/>
<circle cx="306.14" cy="591.48" r="4.07"/>
<circle cx="309.81" cy="590.74" r="4.07"/>
<circle cx="315.69" cy="592.21" r="4.07"/>
<circle cx="320.83" cy="591.92" r="4.07"/>
<circle cx="322.3" cy="592.21" r="4.07"/>
<circle cx="316.42" cy="584.13" r="4.07"/>
<circle cx="323.76" cy="584.13" r="4.07"/>
<circle cx="318.62" cy="576.79" r="4.07"/>
<circle cx="331.84" cy="578.26" r="4.07"/>
<circle cx="333.31" cy="577.53" r="4.07"/>
<circle cx="338.45" cy="578.7" r="4.07"/>
<circle cx="319.36" cy="569.01" r="4.07"/>
<circle cx="323.76" cy="556.97" r="4.07"/>
<circle cx="400.56" cy="466.51" r="4.07"/>
<circle cx="415.39" cy="473.41" r="4.07"/>
<circle cx="431.84" cy="481.93" r="4.07"/>
<circle cx="386.32" cy="476.06" r="4.07"/>
<circle cx="389.26" cy="479.73" r="4.07"/>
<circle cx="376.77" cy="486.63" r="4.07"/>
<circle cx="381.91" cy="486.63" r="4.07"/>
<circle cx="384.12" cy="486.34" r="4.07"/>
<circle cx="389.99" cy="484.43" r="4.07"/>
<circle cx="395.13" cy="485.16" r="4.07"/>
<circle cx="398.8" cy="481.93" r="4.07"/>
<circle cx="401" cy="481.64" r="4.07"/>
<circle cx="403.21" cy="481.64" r="4.07"/>
<circle cx="416.13" cy="480.61" r="4.07"/>
<circle cx="416.72" cy="480.9" r="4.07"/>
<circle cx="420.83" cy="494.41" r="4.07"/>
<circle cx="425.97" cy="495.44" r="4.07"/>
<circle cx="377.51" cy="495.44" r="4.07"/>
<circle cx="381.91" cy="495.44" r="4.07"/>
<circle cx="384.85" cy="495.44" r="4.07"/>
<circle cx="388.52" cy="495.44" r="4.07"/>
<circle cx="392.93" cy="495.44" r="4.07"/>
<circle cx="401.74" cy="495.44" r="4.07"/>
<circle cx="381.91" cy="502.2" r="4.07"/>
<circle cx="387.05" cy="502.49" r="4.07"/>
<circle cx="392.19" cy="504.69" r="4.07"/>
<circle cx="403.94" cy="501.76" r="4.07"/>
<circle cx="362.82" cy="503.96" r="4.07"/>
<circle cx="367.23" cy="503.96" r="4.07"/>
<circle cx="370.9" cy="503.96" r="4.07"/>
<circle cx="398.8" cy="507.63" r="4.07"/>
<circle cx="380.44" cy="509.1" r="4.07"/>
<circle cx="352.54" cy="516.15" r="4.07"/>
<circle cx="360.62" cy="516.15" r="4.07"/>
<circle cx="371.63" cy="516.15" r="4.07"/>
<circle cx="374.57" cy="515.71" r="4.07"/>
<circle cx="380.44" cy="515.71" r="4.07"/>
<circle cx="395.13" cy="516.15" r="4.07"/>
<circle cx="399.53" cy="514.97" r="4.07"/>
<circle cx="360.33" cy="527.16" r="4.07"/>
<circle cx="376.77" cy="526.72" r="4.07"/>
<circle cx="381.47" cy="527.45" r="4.07"/>
<circle cx="347.41" cy="535.53" r="4.07"/>
<circle cx="349.61" cy="536.26" r="4.07"/>
<circle cx="352.54" cy="536.7" r="4.07"/>
<circle cx="370.17" cy="535.53" r="4.07"/>
<circle cx="376.04" cy="535.53" r="4.07"/>
<circle cx="378.24" cy="535.97" r="4.07"/>
<circle cx="391.9" cy="535.82" r="4.07"/>
<circle cx="344.47" cy="543.61" r="4.07"/>
<circle cx="356.22" cy="543.61" r="4.07"/>
<circle cx="365.47" cy="544.78" r="4.07"/>
<circle cx="377.51" cy="550.21" r="4.07"/>
<circle cx="343.9" cy="564.3" r="4.07"/>
<circle cx="345.2" cy="564.4" r="4.07"/>
<circle cx="346.3" cy="564.1" r="4.07"/>
<circle cx="347.2" cy="564.5" r="4.07"/>
<circle cx="354.75" cy="564.6" r="4.07"/>
<circle cx="361.8" cy="567.54" r="4.07"/>
<circle cx="355.48" cy="556.97" r="4.07"/>
<circle cx="371.19" cy="558.14" r="4.07"/>
<circle cx="345.64" cy="578.7" r="4.07"/>
<circle cx="332.87" cy="537" r="4.07"/>
<circle cx="339.92" cy="550.95" r="4.07"/>
<circle cx="383.38" cy="495.44" r="4.07"/>
<circle cx="386.61" cy="495.44" r="4.07"/>
<circle cx="390.28" cy="495.44" r="4.07"/>
<circle cx="391.46" cy="495.59" r="4.07"/>
<circle cx="382.94" cy="486.48" r="4.07"/>
<circle cx="416.42" cy="480.76" r="4.07"/>
<circle cx="349.61" cy="535.97" r="4.07"/>
<circle cx="279.71" cy="640.08" r="4.07"/>
<circle cx="346.3" cy="556.3" r="4.07"/>
</g>
<path d="M253.2 651.3L262.11 641.73L271.02 632.16L279.93 622.56L288.84 612.94L297.75 603.3L306.66 593.61L315.57 583.89L324.48 574.11L333.39 564.27L342.3 554.37L351.21 544.42L360.12 534.41L369.03 524.37L377.94 514.29L386.85 504.18L395.76 494.05L404.67 483.91L413.58 473.75L422.49 463.58L431.4 453.4L431.4 462.4L422.49 471.96L413.58 481.53L404.67 491.11L395.76 500.71L386.85 510.32L377.94 519.95L369.03 529.61L360.12 539.31L351.21 549.04L342.3 558.83L333.39 568.67L324.48 578.57L315.57 588.53L306.66 598.55L297.75 608.6L288.84 618.7L279.93 628.82L271.02 638.96L262.11 649.13L253.2 659.3Z" fill="#999999" fill-opacity="0.4"/>
<path d="M253.2 655.3L431.4 457.9" stroke="#000" stroke-width="4.45" fill="none"/>
<rect x="244.1" y="457.15" width="196.7" height="198.8" fill="none" stroke="#333333" stroke-width="2.22"/>
</g>
<g clip-path="url(#cp22)">
<rect x="452.15" y="457.15" width="196.45" height="198.8" fill="#fff"/>
<path d="M452.15 615.25H648.6M452.15 550.55H648.6M452.15 485.9H648.6M488.45 457.15V655.95M529.55 457.15V655.95M570.65 457.15V655.95M611.75 457.15V655.95" stroke="#EBEBEB" stroke-width="1.110" fill="none"/>
<path d="M452.15 647.6H648.6M452.15 582.9H648.6M452.15 518.2H648.6M467.9 457.15V655.95M509 457.15V655.95M550.1 457.15V655.95M591.2 457.15V655.95M632.3 457.15V655.95" stroke="#EBEBEB" stroke-width="2.220" fill="none"/>
<path d="M461.01 573.85L462.51 569.75L464.01 566L465.51 562.57L467.01 559.44L468.51 556.59L470.01 554L471.51 551.65L473.01 549.51L474.51 547.55L476.01 545.77L477.51 544.14L479.01 542.62L480.51 541.21L482.01 539.89L483.51 538.61L485.01 537.37L486.51 536.13L488.01 534.87L489.51 533.55L491.01 532.14L492.51 530.62L494.01 528.96L495.51 527.15L497.01 525.21L498.51 523.21L500.01 521.19L501.51 519.21L503.01 517.32L504.51 515.57L506.01 514.02L507.51 512.71L509.01 511.61L510.51 510.72L512.01 510.01L513.51 509.48L515.01 509.11L516.51 508.87L518.01 508.75L519.51 508.74L521.01 508.82L522.51 508.98L524.01 509.19L525.51 509.43L527.01 509.7L528.51 509.98L530.01 510.25L531.51 510.49L533.01 510.68L534.51 510.83L536.01 510.93L537.51 510.99L539.01 511.01L540.51 510.99L542.01 510.94L543.51 510.86L545.01 510.76L546.51 510.63L548.01 510.49L549.51 510.33L551.01 510.17L552.51 509.99L554.01 509.81L555.51 509.63L557.01 509.45L558.51 509.27L560.01 509.08L561.51 508.85L563.01 508.6L564.51 508.29L566.01 507.93L567.51 507.5L569.01 507L570.51 506.4L572.01 505.7L573.51 504.9L575.01 503.97L576.51 502.91L578.01 501.71L579.51 500.36L581.01 498.85L582.51 497.16L584.01 495.28L585.51 493.23L587.01 491.04L588.51 488.75L590.01 486.39L591.51 483.99L593.01 481.6L594.51 479.26L596.01 476.99L597.51 474.84L599.01 472.84L600.51 471.03L602.01 469.44L603.51 468.12L605.01 467.1L606.51 466.41L608.01 466.11L609.51 466.22L611.01 466.8L612.51 467.9L614.01 469.56L615.51 471.81L617.01 474.65L618.51 478.02L620.01 481.89L621.51 486.21L623.01 490.95L624.51 496.08L626.01 501.56L627.51 507.37L629.01 513.49L630.51 519.9L632.01 526.57L633.51 533.5L635.01 540.72L636.51 548.26L638.01 556.15L639.51 564.43L639.7 565.49" fill="none" stroke="#000" stroke-width="2.22" stroke-linejoin="round"/>
<rect x="452.15" y="457.15" width="196.45" height="198.8" fill="none" stroke="#333333" stroke-width="2.22"/>
</g>
<path d="M648.6 36V235.15M648.6 247V445.8M648.6 457.15V655.95M36.3 36H232.85M244.1 36H440.8M452.15 36H648.6" stroke="#333333" stroke-width="2.22" fill="none"/>
<path d="M30.5 226.2H36.3M30.5 178.5H36.3M30.5 130.8H36.3M30.5 83.1H36.3M30.5 431.75H36.3M30.5 376.45H36.3M30.5 321.15H36.3M30.5 265.85H36.3M30.5 640H36.3M30.5 598.5H36.3M30.5 557H36.3M30.5 515.5H36.3M30.5 474H36.3M70.4 655.95V661.68M122.9 655.95V661.68M175.4 655.95V661.68M227.9 655.95V661.68M257.9 655.95V661.68M312.55 655.95V661.68M367.2 655.95V661.68M421.85 655.95V661.68M467.9 655.95V661.68M509 655.95V661.68M550.1 655.95V661.68M591.2 655.95V661.68M632.3 655.95V661.68" stroke="#333333" stroke-width="2.22" fill="none"/>
<g font-size="18.33" fill="#4D4D4D" letter-spacing="0">
<text x="25.9" y="232.8" text-anchor="end">0.0</text>
<text x="25.9" y="185.1" text-anchor="end">0.2</text>
<text x="25.9" y="137.4" text-anchor="end">0.4</text>
<text x="25.9" y="89.7" text-anchor="end">0.6</text>
<text x="25.9" y="438.35" text-anchor="end">5</text>
<text x="25.9" y="383.05" text-anchor="end">6</text>
<text x="25.9" y="327.75" text-anchor="end">7</text>
<text x="25.9" y="272.45" text-anchor="end">8</text>
<text x="25.9" y="646.6" text-anchor="end">1</text>
<text x="25.9" y="605.1" text-anchor="end">2</text>
<text x="25.9" y="563.6" text-anchor="end">3</text>
<text x="25.9" y="522.1" text-anchor="end">4</text>
<text x="25.9" y="480.6" text-anchor="end">5</text>
<text x="70.4" y="679.8" text-anchor="middle">3.0</text>
<text x="122.9" y="679.8" text-anchor="middle">3.5</text>
<text x="175.4" y="679.8" text-anchor="middle">4.0</text>
<text x="227.9" y="679.8" text-anchor="middle">4.5</text>
<text x="257.9" y="679.8" text-anchor="middle">5</text>
<text x="312.55" y="679.8" text-anchor="middle">6</text>
<text x="367.2" y="679.8" text-anchor="middle">7</text>
<text x="421.85" y="679.8" text-anchor="middle">8</text>
<text x="467.9" y="679.8" text-anchor="middle">1</text>
<text x="509" y="679.8" text-anchor="middle">2</text>
<text x="550.1" y="679.8" text-anchor="middle">3</text>
<text x="591.2" y="679.8" text-anchor="middle">4</text>
<text x="632.3" y="679.8" text-anchor="middle">5</text>
</g>
</svg>
</body></html>
